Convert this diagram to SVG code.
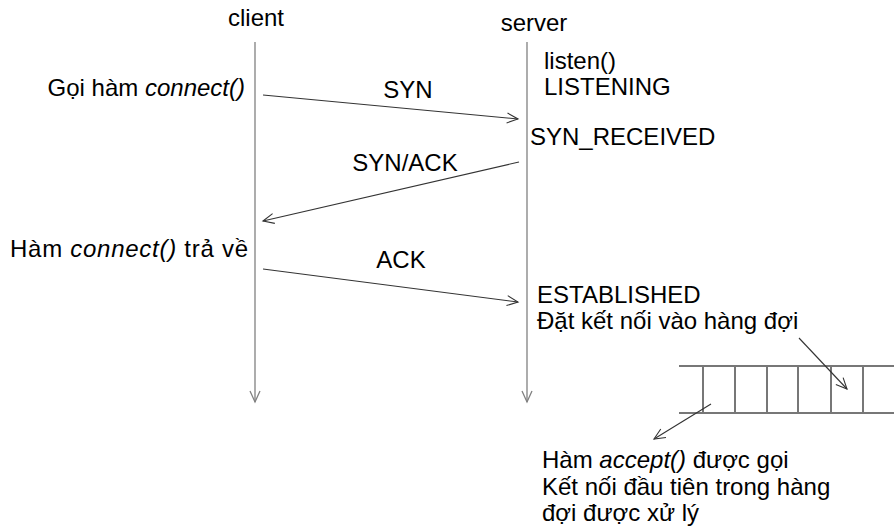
<svg xmlns="http://www.w3.org/2000/svg" width="894" height="531" viewBox="0 0 894 531">
<style>
text{font-family:"Liberation Sans",Arial,sans-serif;font-size:24px;fill:#000}
.life{stroke:#808080;stroke-width:1.3;fill:none}
.msg{stroke:#333;stroke-width:1.1;fill:none}
.q{stroke:#777;stroke-width:2;fill:none}
</style>
<defs>
<marker id="ah" markerWidth="14" markerHeight="12" refX="12" refY="6" orient="auto" markerUnits="userSpaceOnUse">
<path d="M1,1 L12,6 L1,11" fill="none" stroke="#333" stroke-width="1.1"/>
</marker>
<marker id="ahl" markerWidth="14" markerHeight="12" refX="12" refY="6" orient="auto" markerUnits="userSpaceOnUse">
<path d="M1,1 L12,6 L1,11" fill="none" stroke="#808080" stroke-width="1.3"/>
</marker>
</defs>
<g id="client">
<text x="256" y="26" text-anchor="middle">client</text>
</g>
<g id="server">
<text x="534" y="31" text-anchor="middle">server</text>
</g>
<g id="client-notes">
<text x="245" y="96" text-anchor="end">Gọi hàm <tspan font-style="italic">connect()</tspan></text>
<text x="10" y="257" textLength="238" lengthAdjust="spacing">Hàm <tspan font-style="italic">connect()</tspan> trả về</text>
</g>
<g id="server-notes">
<text x="544" y="69">listen()</text>
<text x="544" y="95">LISTENING</text>
<text x="530" y="145">SYN_RECEIVED</text>
<text x="537" y="303">ESTABLISHED</text>
<text x="537" y="329">Đặt kết nối vào hàng đợi</text>
</g>
<g id="queue">
<line class="q" x1="679" y1="366" x2="894" y2="366"/>
<line class="q" x1="679" y1="413" x2="894" y2="413"/>
<line class="q" x1="703" y1="366" x2="703" y2="413"/>
<line class="q" x1="735" y1="366" x2="735" y2="413"/>
<line class="q" x1="767" y1="366" x2="767" y2="413"/>
<line class="q" x1="798" y1="366" x2="798" y2="413"/>
<line class="q" x1="831" y1="366" x2="831" y2="413"/>
<line class="q" x1="863" y1="366" x2="863" y2="413"/>
</g>
<g id="accept-note">
<text x="542" y="468">Hàm <tspan font-style="italic">accept()</tspan> được gọi</text>
<text x="542" y="495">Kết nối đầu tiên trong hàng</text>
<text x="542" y="521">đợi được xử lý</text>
</g>
<g id="connectors">
<line class="life" x1="255" y1="42" x2="255" y2="402" marker-end="url(#ahl)"/>
<line class="life" x1="527" y1="42" x2="527" y2="402" marker-end="url(#ahl)"/>
<line class="msg" x1="263" y1="95" x2="518" y2="119" marker-end="url(#ah)"/>
<text x="408" y="98" text-anchor="middle">SYN</text>
<line class="msg" x1="519" y1="162" x2="263" y2="221" marker-end="url(#ah)"/>
<text x="405" y="171" text-anchor="middle">SYN/ACK</text>
<line class="msg" x1="263" y1="269" x2="518" y2="302" marker-end="url(#ah)"/>
<text x="401" y="268" text-anchor="middle">ACK</text>
<line class="msg" x1="799" y1="338" x2="847" y2="389" marker-end="url(#ah)"/>
<line class="msg" x1="711" y1="404" x2="654" y2="439" marker-end="url(#ah)"/>
</g>
</svg>
